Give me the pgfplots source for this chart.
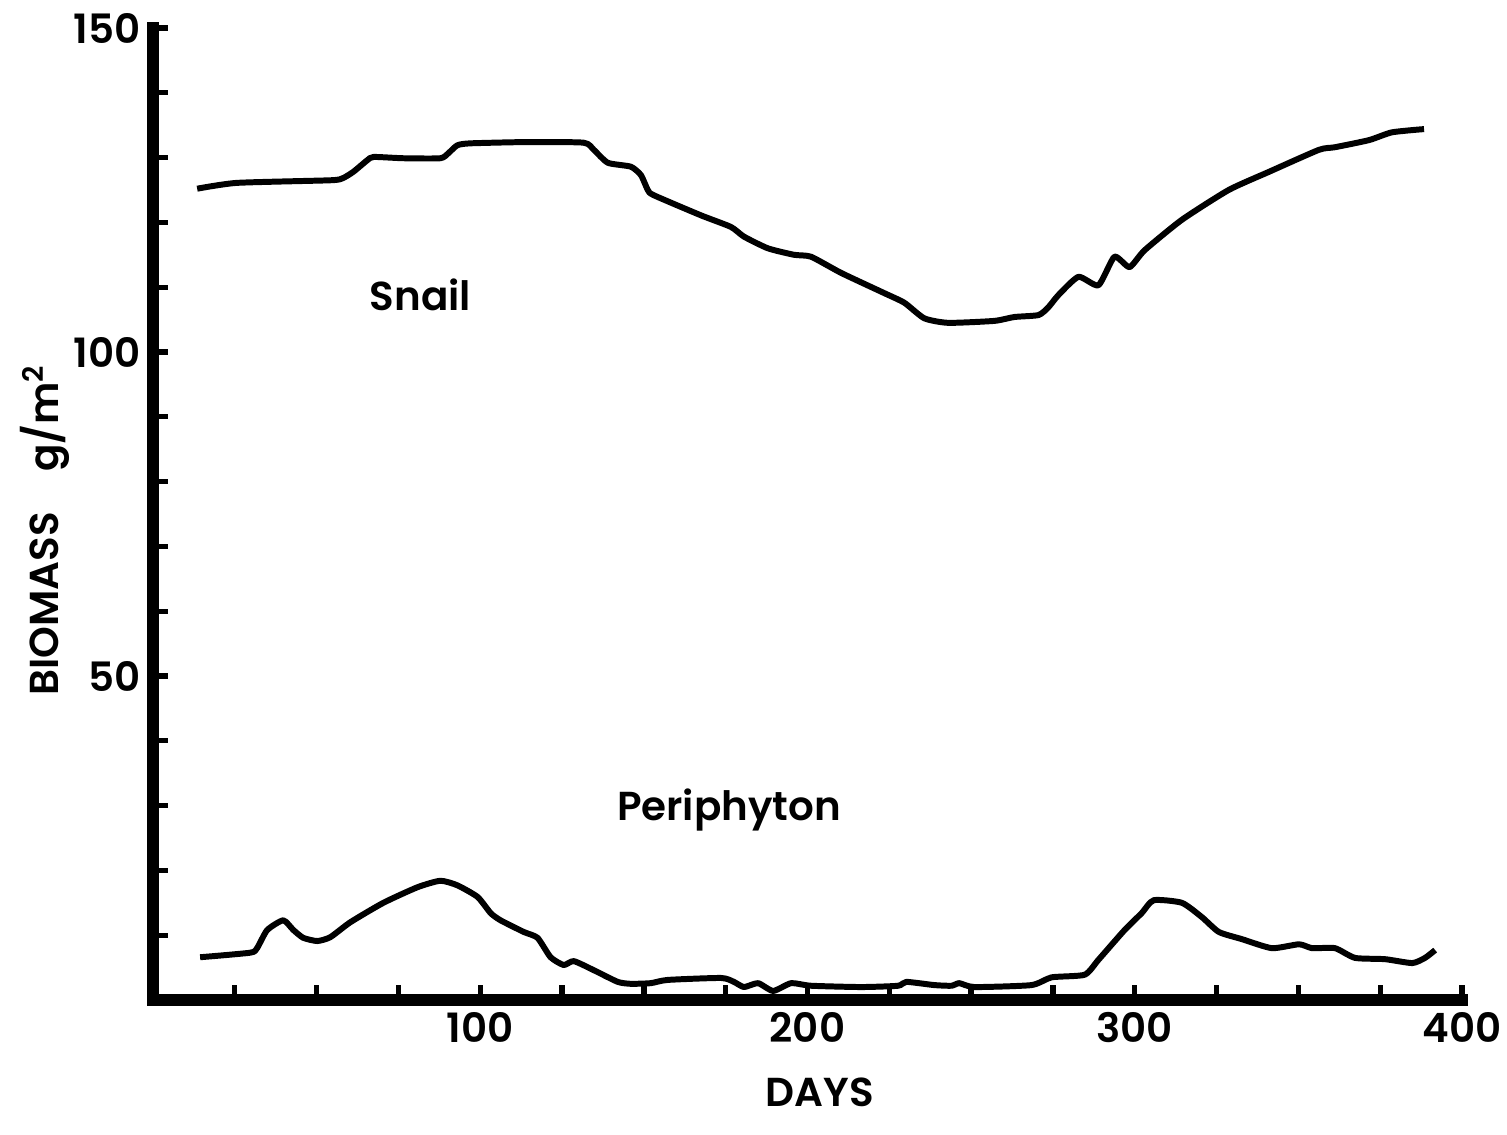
\documentclass[border=0pt]{standalone}
\usepackage{fontspec}
\setmainfont{Poppins}[BoldFont={Poppins SemiBold}]
\usepackage{pgfplots}
\pgfplotsset{compat=1.18}

\begin{document}
\begin{tikzpicture}
\useasboundingbox (-1.53cm,-1.34cm) rectangle (13.54cm,10.0cm);
\begin{axis}[
  scale only axis,
  width=13.09cm, height=9.72cm,
  xmin=0, xmax=400, ymin=0, ymax=150,
  axis x line=bottom, axis y line=left,
  axis line style={-, line width=3.4pt, line cap=rect},
  tick align=inside,
  major tick length=0.15cm, minor tick length=0.15cm,
  tick style={black, line width=1.5pt},
  xtick={100,200,300,400},
  minor xtick={25,50,75,125,150,175,225,250,275,325,350,375},
  ytick={50,100,150},
  minor ytick={10,20,30,40,60,70,80,90,110,120,130,140},
  /pgf/number format/assume math mode=true,
  ticklabel style={font=\fontsize{11.5}{13}\selectfont\bfseries},
  xlabel={DAYS},
  ylabel={BIOMASS\quad g/m\textsuperscript{2}},
  label style={font=\fontsize{11.5}{13}\selectfont\bfseries},
  xlabel style={at={(axis description cs:0.5095,-0.095)}, anchor=center},
  ylabel style={at={(axis description cs:-0.0825,0.4835)}, anchor=center},
  clip=false,
]
% snail
\addplot[black, line width=1.7pt, line join=round, smooth, tension=0.35] coordinates {
(13.5,125.2) (25.7,126.1) (54.2,126.5) (57.9,126.8) (61.2,127.8) (65.5,129.6)
(67.4,130.1) (76.5,129.9) (87.8,129.9) (90.3,130.7) (93.0,131.9) (97.0,132.2)
(114.5,132.4) (131.6,132.3) (134.7,131.2) (139.0,129.2) (146.0,128.6) (149.1,127.3)
(151.2,125.0) (153.0,124.2) (167.4,121.1) (176.6,119.3) (180.6,117.8) (187.9,116.0)
(195.9,115.0) (201.1,114.7) (210.3,112.2) (223.4,109.1) (229.6,107.6) (235.7,105.2)
(243.0,104.5) (257.1,104.8) (263.2,105.4) (270.6,105.7) (273.6,106.9) (276.7,108.8)
(282.8,111.6) (288.9,110.3) (293.8,114.7) (298.4,113.1) (303.0,115.7) (314.4,120.4)
(328.7,125.0) (341.0,127.8) (356.3,131.2) (361.2,131.6) (371.6,132.7) (378.6,133.9)
(388.4,134.4)
};
% periphyton
\addplot[black, line width=1.7pt, line join=round, smooth, tension=0.35] coordinates {
(14.4,6.6) (29.7,7.3) (31.8,8.0) (34.9,10.8) (39.8,12.3) (42.9,10.8) (45.9,9.6)
(50.2,9.1) (54.2,9.7) (60.3,12.0) (70.4,15.0) (80.8,17.4) (87.8,18.4) (93.0,17.7)
(99.2,15.9) (103.2,13.4) (106.2,12.3) (113.3,10.5) (117.5,9.6) (121.5,6.6)
(125.5,5.4) (128.6,6.0) (134.7,4.6) (142.0,2.8) (146.0,2.5) (152.1,2.6)
(157.3,3.1) (173.6,3.4) (177.5,2.8) (180.6,2.0) (184.9,2.6) (189.5,1.4) (195.0,2.6)
(201.1,2.2) (216.4,2.0) (227.7,2.2) (230.2,2.8) (238.8,2.3) (244.0,2.2) (246.4,2.6)
(251.0,2.0) (268.4,2.3) (274.6,3.5) (284.7,3.9) (288.9,6.2) (296.9,10.8)
(302.1,13.4) (305.8,15.4) (314.4,15.0) (320.5,12.8) (325.7,10.5) (332.7,9.4)
(341.9,8.0) (350.2,8.6) (354.2,8.0) (361.2,8.0) (367.3,6.5) (376.5,6.3)
(384.8,5.7) (388.7,6.5) (391.8,7.7)
};
\node[font=\fontsize{11.5}{13}\selectfont\bfseries] at (axis cs:81.7,108.8) {Snail};
\node[font=\fontsize{11.5}{13}\selectfont\bfseries] at (axis cs:176,29.3) {Periphyton};
\end{axis}
\end{tikzpicture}
\end{document}
